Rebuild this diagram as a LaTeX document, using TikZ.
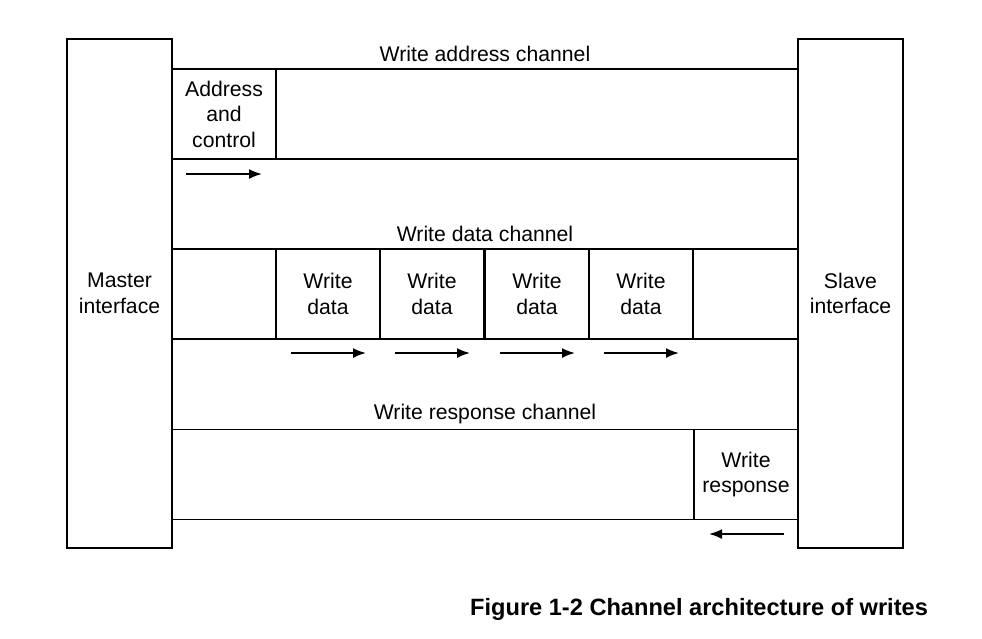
\documentclass[tikz,border=0pt]{standalone}
\usepackage{fontspec}
\setmainfont{Liberation Sans}
\usetikzlibrary{arrows.meta}
\begin{document}
\begin{tikzpicture}[x=1pt,y=-1pt,
  lw/.style={line width=1.8pt},
  txt/.style={font=\fontsize{21.2}{25.5}\selectfont, align=center, inner sep=0pt},
  iface/.style={lw, draw, minimum width=105pt, minimum height=509pt, inner sep=0pt, txt},
  chan/.style={lw, draw, minimum width=626pt, minimum height=90pt, inner sep=0pt},
  cell/.style={lw, draw, minimum width=104pt, minimum height=90pt, inner sep=0pt, txt},
  flow/.style={line width=1.8pt, -{Latex[length=13pt,width=10pt]}},
  captext/.style={font=\fontsize{23.6}{28}\selectfont\bfseries, inner sep=0pt, anchor=base west}
]
\useasboundingbox (0,0) rectangle (982,638);
% interfaces
\node[iface] (master) at (119.5,293.5) {Master\\interface};
\node[iface] (slave) at (850.5,293.5) {Slave\\interface};
% channels
\node[chan] (wa) at (485,114) {};
\node[chan] (wd) at (485,294) {};
\node[chan] (wr) at (485,474.5) {};
% channel labels
\node[txt] (lwa) at (485,54) {Write address channel};
\node[txt] (lwd) at (485,234) {Write data channel};
\node[txt] (lwr) at (485,414) {Write response channel};
% cells
\node[cell] (ac) at (224,114) {Address\\and\\control};
\node[cell] (d1) at (328,294) {Write\\data};
\node[cell] (d2) at (432,294) {Write\\data};
\node[cell] (d3) at (537,294) {Write\\data};
\node[cell] (d4) at (641,294) {Write\\data};
\node[cell] (rs) at (746,474.5) {Write\\response};
% arrows
\coordinate (a0s) at (186,174); \coordinate (a0e) at (262,174);
\draw[flow] (a0s) -- (a0e);
\coordinate (a1s) at (291,353); \coordinate (a1e) at (366,353);
\coordinate (a2s) at (395,353); \coordinate (a2e) at (470,353);
\coordinate (a3s) at (500,353); \coordinate (a3e) at (575,353);
\coordinate (a4s) at (604,353); \coordinate (a4e) at (679,353);
\draw[flow] (a1s) -- (a1e);
\draw[flow] (a2s) -- (a2e);
\draw[flow] (a3s) -- (a3e);
\draw[flow] (a4s) -- (a4e);
\coordinate (a5s) at (784,534); \coordinate (a5e) at (709,534);
\draw[flow] (a5s) -- (a5e);
% caption
\node[captext] (caption) at (470,615) {Figure 1-2 Channel architecture of writes};
\end{tikzpicture}
\end{document}
